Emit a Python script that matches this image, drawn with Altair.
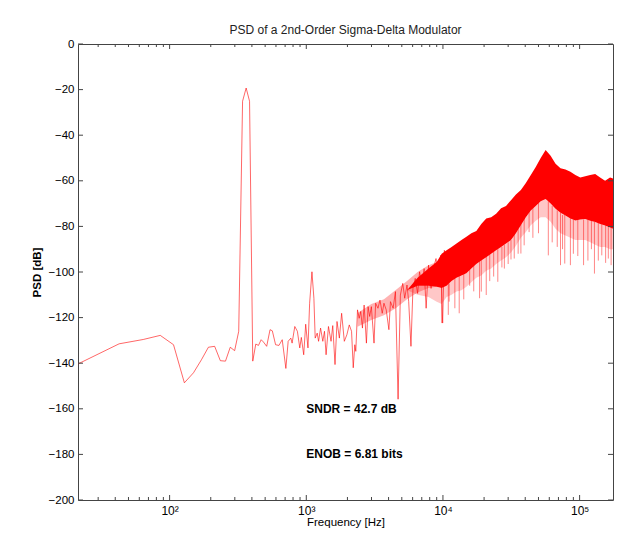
import altair as alt
import pandas as pd

FONT = "Liberation Sans"

# ---- sparse part of the spectrum ----
line_freq = [21.4, 42.7, 64.1, 85.4, 106.8, 128.2, 149.5, 170.9, 192.2, 213.6,
             235.0, 256.3, 277.7, 299.0, 320.4, 341.8, 363.1, 384.5, 405.8,
             427, 446.7, 467.5, 485.7, 513.1, 543, 564.2, 596.2, 631, 666.7,
             709, 736.9, 770.9, 787.7, 824, 860.7, 896, 920.1, 957.6, 990,
             1029, 1058, 1100, 1137, 1162, 1202, 1230, 1272, 1321, 1359,
             1396, 1453, 1518, 1562, 1623, 1678,
             1746, 1814, 1898, 1982, 2063, 2144, 2206, 2265, 2303, 2370,
             2438, 2504, 2576, 2650, 2754, 2833, 2910, 2994, 3131, 3216,
             3347, 3460, 3596, 3700, 3845, 4022, 4130, 4320, 4490, 4696,
             4880, 5080, 5252, 5458, 5615, 5834, 6032, 6269, 6525, 6746,
             7011, 7285, 7532, 7840, 8185, 8519, 8897, 9262, 9623, 9950,
             10235, 10636]
line_psd = [-140.3, -131.5, -129.6, -127.8, -131.9, -148.6, -144.2, -138.5, -133.0, -132.6,
            -138.9, -139.1, -133.0, -134.5, -126.0, -25.1, -19.3, -25.1, -139.1,
            -131.6, -132.2, -129.7, -130.7, -132.6, -125.3, -125.8, -131.9, -132.2, -129.7,
            -142.3, -130.4, -129.0, -131.2, -123.9, -126.0, -133.3, -128.7, -136.3, -122.9,
            -133.3, -113.7, -99.9, -111.5, -129.0, -126.8, -130.4, -124.6, -130.4, -126.0,
            -136.3, -123.9, -130.4, -123.5, -140.6, -121.7,
            -129.0, -118.1, -130.4, -127.5, -123.2, -126.0, -142.0, -131.9, -134.8, -116.6,
            -120.3, -117.3, -124.6, -114.5, -131.2, -115.2, -119.5, -115.2, -131.2, -113.7,
            -115.9, -112.3, -118.1, -113.7, -116.6, -125.3, -113.0, -115.9, -108.6, -155.8,
            -110.1, -105.0, -111.5, -105.7, -113.0, -132.6, -107.2, -102.8, -109.4, -99.9,
            -105.7, -98.5, -115.9, -97.0, -107.2, -98.5, -94.1, -102.1, -92.7, -122.4,
            -90.5, -95.6]

# ---- where the trace starts to crowd (2-9 kHz): envelope of the zigzag ----
mid_freq = [2370, 2994, 3700, 4490, 5458, 6525, 7840, 9001]
mid_upper = [-118.0, -114.0, -112.0, -108.0, -104.0, -100.0, -97.0, -95.6]
mid_lower = [-124.0, -121.0, -119.0, -116.0, -112.0, -109.0, -107.0, -106.5]

# ---- dense part: envelopes of the noise band ----
band_freq = [5458, 6525, 7840, 9001, 9786, 10636, 11562, 12570, 13664, 14847,
             16140, 17546, 19076, 20738, 22538, 24500, 26634, 28940, 31465, 34200,
             37180, 40420, 43940, 47750, 51910, 56410, 61340, 66660, 72470, 78780,
             85620, 93070, 101170, 110000, 119530, 130000, 141250, 153600, 166940, 175500]
band_upper = [-108.0, -102.5, -98.5, -95.6, -92.0, -90.5, -89.0, -87.5, -86.0, -84.5,
              -83.0, -82.0, -79.0, -76.5, -76.0, -74.5, -72.0, -71.0, -68.5, -66.0,
              -64.0, -61.0, -57.5, -54.0, -50.0, -46.5, -49.0, -52.5, -54.5, -55.0,
              -56.0, -57.5, -58.5, -58.0, -57.5, -57.0, -58.5, -60.0, -58.5, -59.0]
band_lower = [-108.0, -106.0, -106.0, -106.5, -107.0, -106.0, -104.0, -102.5, -101.5, -100.5,
              -98.5, -96.5, -95.0, -93.5, -92.0, -90.5, -89.0, -87.5, -86.0, -83.0,
              -79.5, -76.0, -73.0, -71.0, -69.0, -68.0, -70.0, -72.3, -74.0, -75.2,
              -76.5, -77.4, -77.0, -76.7, -77.5, -78.1, -79.0, -79.6, -80.5, -81.0]
band_fringe = [-108.0, -110.0, -111.0, -113.0, -114.0, -111.0, -110.0, -108.5, -108.0, -106.5,
               -104.5, -102.5, -101.5, -99.5, -98.5, -96.5, -95.0, -93.5, -91.5, -88.5,
               -85.0, -82.5, -79.5, -77.5, -76.0, -76.0, -78.0, -81.0, -83.0, -84.0,
               -85.0, -86.0, -86.0, -86.0, -87.0, -88.0, -89.0, -89.0, -90.0, -90.0]

# ---- downward spikes below the band ----
spike_freq = [9786, 10940, 11100, 12220, 13150, 14200, 15690, 16800, 18540, 19076,
              20738, 22000, 23500, 25200, 27000, 28140, 30000, 31465, 33240, 35500,
              37180, 39290, 42700, 45500, 50000, 59020, 63000, 68590, 72470, 75000,
              77860, 85620, 90000, 97000, 106900, 115000, 122000, 128400, 137000, 145300,
              155000, 162200, 170000]
spike_top = [-106, -105, -105, -102, -101, -100, -98, -97, -95, -94,
             -93, -92, -91, -90, -89, -88, -87, -86, -83, -81,
             -79, -76, -73, -71, -69, -69, -71, -73, -74, -75,
             -75, -76, -77, -77, -77, -77, -77, -78, -78, -79,
             -79, -80, -80]
spike_bottom = [-122.4, -118.8, -113.0, -115.9, -118.1, -112.0, -106.0, -108.5, -111.5, -108.6,
                -110.1, -104.0, -102.0, -104.3, -98.0, -98.5, -96.5, -94.5, -94.1, -92.0,
                -91.9, -88.3, -82.5, -85.0, -83.0, -92.7, -87.0, -89.0, -97.0, -90.0,
                -96.3, -97.0, -92.0, -93.0, -97.0, -95.0, -90.0, -100.7, -95.0, -92.7,
                -96.0, -94.1, -97.0]

# ---- annotations ----
note_text = ["SNDR = 42.7 dB", "ENOB = 6.81 bits"]
note_freq = [1000, 1000]
note_psd = [-160, -180]

# ---- axis ticks ----
y_ticks = [0, -20, -40, -60, -80, -100, -120, -140, -160, -180, -200]
x_major = [100, 1000, 10000, 100000]
x_minor = [30, 40, 50, 60, 70, 80, 90,
           200, 300, 400, 500, 600, 700, 800, 900,
           2000, 3000, 4000, 5000, 6000, 7000, 8000, 9000,
           20000, 30000, 40000, 50000, 60000, 70000, 80000, 90000]

W, H = 535, 456
RED = "#ff0000"
AX = "#444444"

xscale = alt.Scale(type="log", domain=[21.36, 175500], nice=False, clamp=True)
yscale = alt.Scale(domain=[-200, 0], nice=False, zero=False)

xaxis = alt.Axis(values=x_major,
                 labelExpr="datum.value==100?'10²':datum.value==1000?'10³':datum.value==10000?'10⁴':'10⁵'",
                 title="Frequency [Hz]", ticks=False, tickSize=0, domain=False, grid=False,
                 labelFont=FONT, labelFontSize=12, labelColor="#000", labelPadding=5,
                 titleFont=FONT, titleFontSize=11.5, titleFontWeight="normal", titleColor="#000",
                 titlePadding=0)
yaxis = alt.Axis(values=y_ticks, title="PSD [dB]", ticks=False, tickSize=0, domain=False, grid=False,
                 labelFont=FONT, labelFontSize=11.5, labelColor="#000", labelPadding=4,
                 titleFont=FONT, titleFontSize=11.5, titleFontWeight="bold", titleColor="#000",
                 titlePadding=6)


def X():
    return alt.X("f:Q", scale=xscale, axis=xaxis)


def Y():
    return alt.Y("v:Q", scale=yscale, axis=yaxis)


line_df = pd.DataFrame({"f": line_freq, "v": line_psd})
mid_df = pd.DataFrame({"f": mid_freq, "v": mid_upper, "v2": mid_lower})
band_df = pd.DataFrame({"f": band_freq, "v": band_upper, "v2": band_lower})
fringe_df = pd.DataFrame({"f": band_freq, "v": band_lower, "v2": band_fringe})
spike_df = pd.DataFrame({"f": spike_freq, "v": spike_top, "v2": spike_bottom})
note_df = pd.DataFrame({"f": note_freq, "v": note_psd, "t": note_text})
yt_df = pd.DataFrame({"v": y_ticks})
xM_df = pd.DataFrame({"f": x_major})
xm_df = pd.DataFrame({"f": x_minor})

mid = alt.Chart(mid_df).mark_area(color=RED, opacity=0.3).encode(x=X(), y=Y(), y2="v2:Q")
fringe = alt.Chart(fringe_df).mark_area(color=RED, opacity=0.22).encode(x=X(), y=Y(), y2="v2:Q")
band = alt.Chart(band_df).mark_area(color=RED, opacity=1).encode(x=X(), y=Y(), y2="v2:Q")
spikes = alt.Chart(spike_df).mark_rule(color=RED, strokeWidth=0.8, opacity=0.6).encode(x=X(), y=Y(), y2="v2:Q")
line = alt.Chart(line_df).mark_line(color=RED, strokeWidth=0.8, opacity=0.75).encode(x=X(), y=Y())
notes = alt.Chart(note_df).mark_text(font=FONT, fontSize=12, fontWeight="bold", align="left",
                                     baseline="middle", color="#000").encode(x=X(), y=Y(), text="t:N")

yt_left = alt.Chart(yt_df).mark_rule(color=AX).encode(y=Y(), x=alt.value(0), x2=alt.value(5))
yt_right = alt.Chart(yt_df).mark_rule(color=AX).encode(y=Y(), x=alt.value(W - 5), x2=alt.value(W))
xM_bot = alt.Chart(xM_df).mark_rule(color=AX).encode(x=X(), y=alt.value(H - 5), y2=alt.value(H))
xM_top = alt.Chart(xM_df).mark_rule(color=AX).encode(x=X(), y=alt.value(0), y2=alt.value(5))
xm_bot = alt.Chart(xm_df).mark_rule(color=AX).encode(x=X(), y=alt.value(H - 3), y2=alt.value(H))
xm_top = alt.Chart(xm_df).mark_rule(color=AX).encode(x=X(), y=alt.value(0), y2=alt.value(3))

chart = alt.layer(mid, fringe, band, spikes, line, notes,
                  yt_left, yt_right, xM_bot, xM_top, xm_bot, xm_top).properties(
    width=W, height=H,
    padding={"left": 70, "top": 36, "right": 1, "bottom": 31},
    autosize=alt.AutoSizeParams(type="none"),
    title=alt.TitleParams("PSD of a 2nd-Order Sigma-Delta Modulator", font=FONT, fontSize=12,
                          fontWeight="normal", color="#222", anchor="middle", frame="group", offset=1),
).configure_view(stroke=AX, strokeWidth=1)

chart.save("out.html", embed_options={"renderer": "svg", "actions": False})
